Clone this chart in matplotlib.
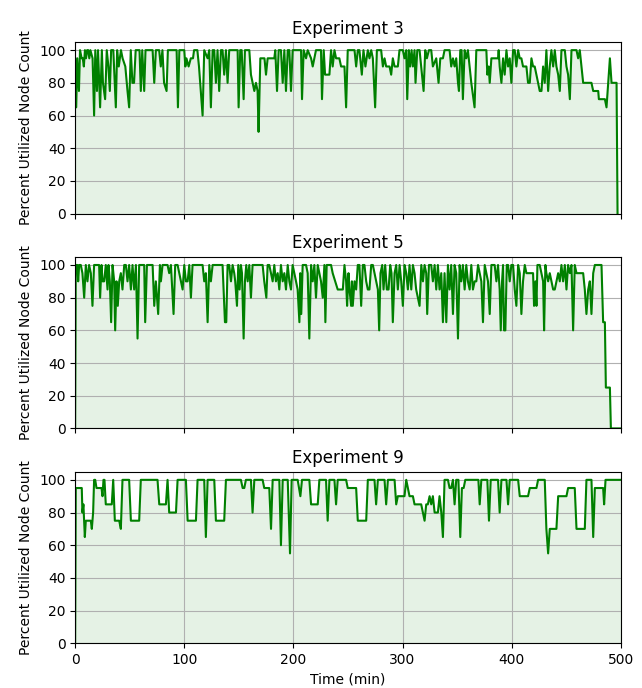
import matplotlib
matplotlib.use("Agg")
import matplotlib.pyplot as plt

titles = ["Experiment 3", "Experiment 5", "Experiment 9"]

# Experiment 3: (time in min, percent utilized)
exp3 = [(0, 95), (1, 65), (2, 95), (3.5, 75), (4.5, 100), (6, 95), (7, 95), (8, 90), (9, 100), (10, 95),
        (11, 100), (12, 100), (13, 95), (14, 100), (16, 95), (17.4, 60), (18.5, 100), (20, 75), (21, 100),
        (22.9, 65), (24.5, 100), (25.5, 80), (27.5, 70), (29, 100), (30.5, 90), (31.8, 75), (33, 100),
        (35, 100), (37.3, 65), (38.5, 100), (40, 90), (42, 100), (43.5, 95), (46, 90), (48, 75), (49.5, 65),
        (51, 100), (52.5, 80), (54, 80), (55.5, 100), (59, 100), (60.2, 75), (61.5, 100), (63.3, 75),
        (64.5, 100), (71, 100), (72.5, 80), (74, 100), (77, 100), (78.5, 90), (80, 100), (81.5, 80),
        (83.8, 75), (85, 100), (93, 100), (94.2, 65), (95.5, 100), (100, 100), (101, 90), (102, 95),
        (104, 90), (106, 95), (108, 95), (109, 100), (112, 100), (113.5, 90), (116.8, 60), (118.3, 100),
        (121.4, 95), (122.9, 100), (124.4, 65), (126, 100), (127.5, 100), (129, 80), (130.5, 100), (132, 75),
        (133.6, 100), (135.1, 100), (136.6, 85), (138.2, 100), (139.7, 80), (141.2, 100), (148.9, 100),
        (149.8, 65), (151.3, 100), (152.6, 100), (154.4, 70), (155.6, 100), (159.6, 100), (161.1, 85),
        (162.6, 80), (164.2, 75), (165.7, 80), (167.2, 75), (168.1, 50), (169.7, 95), (171.8, 95),
        (173.5, 95), (174.9, 85), (176.4, 95), (182.5, 95), (183.4, 100), (185, 75), (186.5, 100),
        (188.6, 100), (190.2, 80), (191.7, 100), (193.2, 75), (194.8, 100), (196.3, 100), (197.8, 75),
        (199.3, 100), (207, 100), (207.9, 70), (209.4, 100), (211.6, 95), (213.1, 100), (216.2, 95),
        (217.7, 90), (219.2, 95), (220.7, 100), (225.3, 100), (226.2, 70), (227.8, 100), (229, 85),
        (233, 85), (234.5, 100), (236, 90), (237.6, 100), (239.1, 95), (242.1, 95), (243.7, 90),
        (246.8, 90), (248.3, 65), (249.8, 100), (256, 100), (257.5, 90), (259, 100), (260.5, 100),
        (262.7, 85), (264.2, 100), (266, 90), (268.2, 100), (269.7, 95), (271.3, 100), (272.8, 95),
        (274.9, 65), (276.5, 100), (280.4, 100), (282, 90), (283.5, 95), (285, 90), (288.1, 90),
        (289.6, 85), (291.1, 95), (292.7, 90), (295.7, 90), (297.2, 100), (300.3, 100), (301.8, 95),
        (303.4, 100), (304.3, 70), (305.8, 100), (307, 90), (308.3, 100), (309.5, 90), (311, 100),
        (311.9, 80), (313.5, 100), (315.6, 100), (317.1, 90), (319.3, 75), (320.8, 100), (322.3, 95),
        (324.2, 100), (326.3, 100), (327.8, 90), (330.9, 95), (333, 80), (334.6, 95), (337, 95),
        (338.5, 100), (343.1, 100), (344.6, 90), (346.2, 95), (347.7, 90), (349.2, 95), (350.8, 80),
        (351.7, 75), (352.9, 100), (354.1, 100), (355.3, 70), (356.9, 100), (358.4, 95), (359.9, 100),
        (361.5, 90), (363, 80), (366, 65), (367.6, 100), (376.8, 100), (377.7, 85), (378.9, 90),
        (379.9, 80), (381.4, 95), (387.5, 95), (388.1, 100), (389, 90), (390.6, 80), (392.1, 95),
        (393.6, 85), (395.2, 100), (396.7, 90), (398.2, 95), (399.7, 80), (401.3, 100), (402.8, 100),
        (404.3, 90), (405.9, 100), (407.4, 95), (408.9, 95), (410.4, 90), (413.5, 90), (415, 80),
        (416.6, 80), (418.1, 95), (419.6, 90), (421.1, 90), (422.7, 85), (424.2, 80), (425.7, 75),
        (427.3, 75), (428.8, 90), (430.3, 80), (431.8, 100), (433.4, 75), (434.9, 90), (436.4, 100),
        (438, 90), (439.5, 100), (441, 90), (442.6, 85), (444.1, 75), (445.6, 100), (448.7, 100),
        (450.2, 90), (451.7, 85), (453.3, 70), (454.8, 100), (459.4, 100), (460.9, 95), (462.4, 100),
        (464, 90), (465.5, 80), (473.1, 80), (474.7, 75), (479.3, 75), (479.9, 70), (485.4, 70),
        (486.9, 65), (488.4, 80), (490, 95), (491.5, 80), (496.1, 80), (497, 0)]

exp5 = [(0, 0), (0.6, 100), (2.1, 100), (2.8, 90), (3.7, 100), (5.2, 100), (6.7, 95), (8.3, 80), (9.8, 100),
        (11.3, 90), (12.8, 100), (14.4, 95), (15.9, 75), (17.4, 100), (22, 100), (22.9, 80), (24.2, 100),
        (25.1, 90), (26.6, 90), (28.1, 100), (29.7, 85), (30.6, 100), (31.8, 90), (33, 65), (34.3, 100),
        (35.8, 90), (36.7, 60), (37.9, 90), (39.1, 75), (40.4, 90), (41.9, 95), (43.4, 85), (45, 100),
        (46.5, 100), (48, 90), (49.5, 100), (51.1, 85), (52.6, 100), (54.1, 85), (55.7, 100), (57.2, 55),
        (58.7, 100), (63.3, 100), (64.2, 65), (65.8, 100), (71, 100), (72.5, 75), (74, 90), (76.1, 70),
        (77.7, 100), (78.6, 90), (80.1, 100), (84.7, 100), (86.2, 95), (87.8, 100), (90.2, 70), (91.7, 100),
        (93.9, 100), (95.4, 95), (96.9, 90), (98.5, 85), (100, 100), (101.5, 90), (103.1, 90), (104.6, 100),
        (106.1, 80), (107.6, 100), (116.8, 100), (118.3, 90), (119.8, 95), (121.4, 65), (122.9, 100),
        (124.4, 90), (126, 100), (135.1, 100), (136, 85), (137.3, 65), (138.5, 65), (139.7, 100),
        (141.2, 100), (142.8, 90), (144.3, 100), (145.8, 95), (146.7, 90), (148.3, 75), (149.5, 100),
        (150.7, 85), (151.9, 100), (152.9, 95), (154.4, 55), (155.6, 90), (156.8, 100), (158.1, 90),
        (159.6, 100), (161.1, 80), (162.6, 100), (171.8, 100), (173.3, 90), (175.2, 80), (176.4, 100),
        (177.9, 100), (179.5, 95), (181, 90), (182.5, 100), (184, 90), (185.6, 95), (187.1, 85),
        (188.6, 100), (190.2, 90), (191.7, 95), (193.2, 85), (194.8, 100), (196.3, 90), (197.8, 85),
        (199.3, 100), (200.9, 95), (202.4, 90), (203.9, 85), (205.5, 65), (206.3, 95), (207.2, 70),
        (208.5, 100), (211.6, 100), (213.1, 95), (214.6, 55), (216.2, 100), (217.7, 90), (219.2, 100),
        (220.7, 80), (222.3, 100), (223.8, 95), (225.3, 90), (226.9, 80), (228.4, 100), (229.3, 65),
        (230.5, 100), (234.5, 100), (236, 95), (240.6, 85), (245.3, 85), (246.8, 100), (248.3, 90),
        (249.2, 75), (250.5, 95), (251.4, 85), (252.9, 75), (253.6, 90), (254.4, 75), (256, 90),
        (257.5, 85), (259, 100), (260.5, 100), (262.1, 75), (263.6, 100), (265.1, 100), (266.7, 90),
        (268.2, 85), (269.7, 85), (271.3, 100), (272.8, 100), (274.3, 95), (275.8, 90), (277.4, 85),
        (278.6, 60), (279.8, 95), (281.4, 100), (282.6, 85), (284.1, 100), (285.6, 85), (287.2, 85),
        (288.7, 100), (289.9, 95), (291.1, 65), (292.7, 95), (294.2, 100), (295.7, 85), (297.3, 100),
        (298.8, 90), (300.3, 75), (301.9, 100), (303.4, 95), (304.9, 85), (306.4, 100), (308, 85),
        (309.5, 100), (311, 95), (312.5, 85), (314.1, 80), (315.6, 75), (317.2, 100), (318.7, 90),
        (320.2, 100), (321.7, 95), (322.6, 70), (324.2, 100), (326.3, 100), (327.8, 90), (329.4, 100),
        (330.9, 85), (332.4, 100), (333.9, 85), (335.5, 95), (337, 65), (338.5, 95), (340.1, 65),
        (341.6, 100), (343.1, 85), (344.6, 100), (346.2, 70), (347.7, 100), (349.2, 95), (350.8, 55),
        (352.3, 100), (353.8, 90), (355.3, 100), (356.9, 85), (358.4, 100), (359.9, 90), (361.5, 85),
        (363, 100), (364.5, 85), (366.1, 90), (367.6, 90), (369.2, 100), (372.2, 90), (373.7, 65),
        (375.3, 100), (378.3, 90), (379.9, 70), (381.4, 100), (384.4, 100), (386, 90), (387.5, 100),
        (389, 85), (390, 60), (391.2, 90), (392.1, 100), (393, 60), (394.2, 60), (395.5, 100),
        (396.7, 100), (398.2, 90), (399.7, 100), (401.3, 100), (402.8, 85), (404.3, 75), (405.9, 100),
        (407.4, 95), (408.9, 70), (410.4, 90), (412, 100), (413.5, 95), (419.6, 95), (420.5, 75),
        (421.8, 90), (422.7, 75), (423.6, 100), (425.7, 100), (427.3, 95), (428.8, 90), (429.7, 60),
        (430.9, 100), (431.8, 95), (433.4, 90), (434.9, 95), (436.4, 90), (438, 85), (439.5, 85),
        (441, 90), (442.6, 95), (444.1, 90), (445.6, 100), (447.1, 90), (448.7, 100), (450.2, 85),
        (451.7, 100), (453.3, 95), (454.8, 100), (456.3, 60), (457.8, 100), (459.4, 95), (465.5, 95),
        (467, 85), (468.5, 70), (470.1, 85), (471.6, 90), (473.1, 70), (474.7, 95), (476.2, 100),
        (482.3, 100), (483.8, 65), (485.4, 65), (486.3, 25), (490, 25), (490.9, 0), (500, 0)]

exp9 = [(0, 0), (0.6, 95), (6.1, 95), (6.7, 80), (7.6, 85), (8.9, 65), (9.8, 75), (14.4, 75), (15.3, 70),
        (16.5, 80), (17.4, 100), (18.4, 100), (19.6, 95), (24.2, 95), (25.1, 90), (26, 100), (26.9, 100),
        (28.1, 85), (33.6, 85), (34.9, 100), (36.4, 75), (40.4, 75), (41.9, 70), (43.4, 100), (49.5, 100),
        (51.1, 75), (58.7, 75), (60.2, 100), (75.5, 100), (77.1, 85), (83.2, 85), (84.7, 100), (86.2, 80),
        (92.4, 80), (93.9, 100), (101.5, 100), (103.1, 75), (110.7, 75), (112.2, 100), (118.3, 100),
        (119.8, 65), (121.4, 100), (127.5, 100), (129, 75), (136.6, 75), (138.2, 100), (151.9, 100),
        (153.5, 95), (155, 95), (156.5, 100), (161.1, 100), (162.6, 80), (164.2, 100), (171.8, 100),
        (173.3, 95), (177.9, 95), (179.5, 70), (181, 100), (187.1, 100), (188.6, 60), (190.2, 100),
        (194.8, 100), (196.9, 55), (198.4, 100), (203.9, 100), (206.4, 90), (207.9, 100), (214.6, 100),
        (216.2, 85), (222.3, 85), (223.8, 100), (229.9, 100), (231.4, 75), (233, 100), (237.6, 100),
        (239.1, 85), (240.6, 100), (248.3, 100), (249.8, 95), (257.5, 95), (259, 75), (266.7, 75),
        (268.2, 100), (274.3, 100), (275.8, 85), (277.4, 100), (283.5, 100), (285, 85), (286.6, 100),
        (292.7, 100), (294.2, 85), (295.7, 90), (301.8, 90), (303.4, 100), (304.9, 95), (306.4, 90),
        (309.5, 90), (311, 85), (317.1, 85), (318.7, 80), (320.2, 75), (321.7, 85), (323.2, 85),
        (324.8, 90), (326.3, 85), (327.8, 90), (329.4, 80), (332.4, 80), (333.9, 90), (335.5, 80),
        (337, 65), (338.5, 100), (341.6, 100), (343.1, 95), (344.6, 95), (346.2, 100), (347.7, 85),
        (349.2, 100), (351.2, 100), (352.9, 65), (354.4, 95), (356, 95), (357.5, 100), (369.5, 100),
        (370.7, 85), (372.2, 100), (377.7, 100), (379.2, 75), (380.8, 100), (387.5, 100), (389, 80),
        (390.6, 100), (395.2, 100), (396.7, 85), (398.2, 100), (405.9, 100), (407.4, 90), (415, 90),
        (416.6, 95), (422.7, 95), (424.2, 100), (430.3, 100), (431.8, 70), (433.4, 55), (434.9, 70),
        (441, 70), (442.6, 90), (450.2, 90), (451.7, 95), (457.8, 95), (459.4, 70), (467, 70),
        (468.5, 100), (473.1, 100), (474.7, 65), (476.2, 95), (483.8, 95), (484.7, 85), (486, 100),
        (500, 100)]

experiments = [exp3, exp5, exp9]

fig, axes = plt.subplots(3, 1, figsize=(6.42, 6.88), dpi=100, sharex=True)
fig.subplots_adjust(left=0.117, right=0.967, top=0.939, bottom=0.065, hspace=0.252)

for ax, title, data in zip(axes, titles, experiments):
    t = [p[0] for p in data]
    v = [p[1] for p in data]
    ax.plot(t, v, color="green", linewidth=1.5)
    ax.fill_between(t, v, color="green", alpha=0.1, linewidth=0)
    ax.set_title(title)
    ax.set_ylabel("Percent Utilized Node Count")
    ax.set_xlim(0, 500)
    ax.set_ylim(0, 105)
    ax.grid(True)

axes[-1].set_xlabel("Time (min)")

plt.savefig("out.png")
